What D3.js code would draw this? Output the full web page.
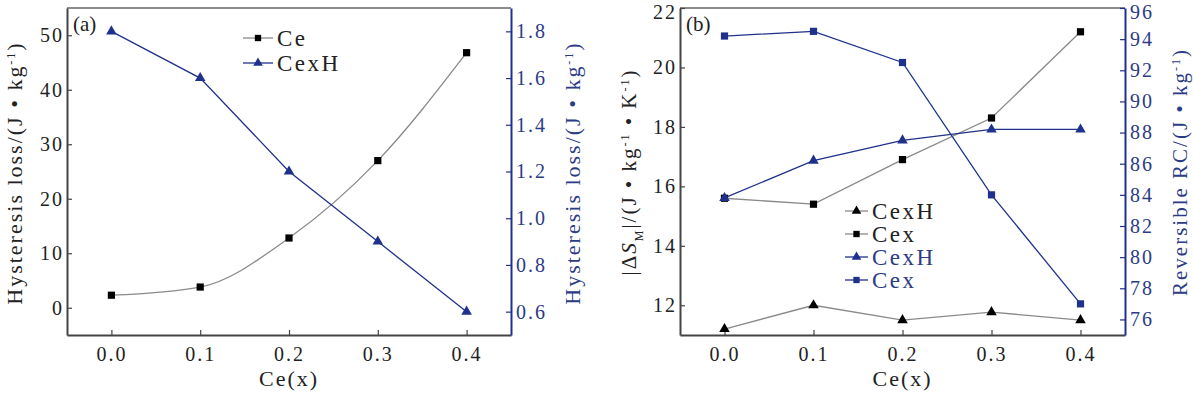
<!DOCTYPE html>
<html lang="en">
<head>
<meta charset="UTF-8">
<title>Hysteresis loss and RC</title>
<style>
  body { margin: 0; background: #fff; }
  text { font-family: "Liberation Serif", "Times New Roman", serif; }
</style>
</head>
<body>
<script src="https://d3js.org/d3.v7.min.js"></script>
<div id="chart"></div>
<script>
// ---- data ----
const xs = [0.0, 0.1, 0.2, 0.3, 0.4];
const xTicks = [0.0, 0.1, 0.2, 0.3, 0.4];

// panel (a)
const ceLoss = [2.3, 3.8, 12.8, 27.0, 46.8];          // left axis
const cexhLoss = [1.8, 1.6, 1.2, 0.9, 0.6];           // right axis
const aLeftTicks = [0, 10, 20, 30, 40, 50];
const aRightTicks = [0.6, 0.8, 1.0, 1.2, 1.4, 1.6, 1.8];

// panel (b)
const cexhDS = [11.2, 12.0, 11.5, 11.77, 11.5];       // left axis
const cexDS = [15.6, 15.4, 16.9, 18.3, 21.2];         // left axis
const cexhRC = [83.8, 86.2, 87.5, 88.2, 88.2];        // right axis
const cexRC = [94.2, 94.5, 92.5, 84.0, 77.0];         // right axis
const bLeftTicks = [12, 14, 16, 18, 20, 22];
const bRightTicks = [76, 78, 80, 82, 84, 86, 88, 90, 92, 94, 96];

const W = 1193, H = 394;
const blue = "#1f318c";
const blueText = "#2c3b86";
const gray = "#8a8a8a";
const axisCol = "#444";

const svg = d3.select("#chart").append("svg").attr("width", W).attr("height", H);

function panel(cfg) {
  const g = svg.append("g");
  const x = d3.scaleLinear().domain([-0.05, 0.45]).range([cfg.left, cfg.right]);
  const yL = d3.scaleLinear().domain(cfg.leftDomain).range([cfg.bottom, cfg.top]);
  const yR = d3.scaleLinear().domain(cfg.rightDomain).range([cfg.bottom, cfg.top]);

  // frame
  g.append("line").attr("x1", cfg.left).attr("x2", cfg.right).attr("y1", cfg.top).attr("y2", cfg.top)
    .attr("stroke", "#666").attr("stroke-width", 1.5);

  // axes
  const ax = g.append("g").attr("transform", `translate(0,${cfg.bottom})`)
    .call(d3.axisBottom(x).tickValues(xTicks).tickFormat(d3.format(".1f")).tickSizeInner(-5).tickSizeOuter(0).tickPadding(12));
  const al = g.append("g").attr("transform", `translate(${cfg.left},0)`)
    .call(d3.axisLeft(yL).tickValues(cfg.leftTicks).tickSizeInner(-5).tickSizeOuter(0).tickPadding(5));
  const ar = g.append("g").attr("transform", `translate(${cfg.right},0)`)
    .call(d3.axisRight(yR).tickValues(cfg.rightTicks).tickFormat(cfg.rightFormat).tickSizeInner(-5).tickSizeOuter(0).tickPadding(5));

  [ax, al].forEach(a => {
    a.select(".domain").attr("stroke", axisCol).attr("stroke-width", 2);
    a.selectAll(".tick line").attr("stroke", axisCol).attr("stroke-width", 1.2);
    a.selectAll(".tick text").attr("fill", "#222");
  });
  ar.select(".domain").attr("stroke", blue).attr("stroke-width", 2);
  ar.selectAll(".tick line").attr("stroke", blue).attr("stroke-width", 1.2);
  ar.selectAll(".tick text").attr("fill", blueText);
  [ax, al, ar].forEach(a => a.selectAll(".tick text").style("font-size", "20px").style("letter-spacing", "2px")
    .attr("font-family", null));
  ax.selectAll(".tick text").attr("dy", "0.71em");
  al.selectAll(".tick text").attr("dx", 2);

  // keep labels sitting on the top edge inside the picture
  [al, ar].forEach(a => a.selectAll(".tick text")
    .filter(function() { return this.parentNode.transform.baseVal.consolidate().matrix.f < cfg.top + 3; })
    .attr("dy", "0.52em"));

  // axis titles
  g.append("text").attr("x", (cfg.left + cfg.right) / 2).attr("y", 386).attr("text-anchor", "middle")
    .style("font-size", "22px").style("letter-spacing", "2px").attr("fill", "#222").text("Ce(x)");
  const lt = g.append("text").attr("transform", `translate(${cfg.leftTitleX},${cfg.titleY}) rotate(-90)`)
    .attr("text-anchor", "middle").style("font-size", cfg.titleSize).style("letter-spacing", "2px").attr("fill", "#222");
  cfg.leftTitle(lt);
  const rt = g.append("text").attr("transform", `translate(${cfg.rightTitleX},${cfg.titleY}) rotate(-90)`)
    .attr("text-anchor", "middle").style("font-size", cfg.titleSize).style("letter-spacing", "2px").attr("fill", blueText);
  cfg.rightTitle(rt);

  // panel tag
  g.append("text").attr("x", cfg.left + 6).attr("y", 31).style("font-size", "21px").attr("fill", "#222").text(cfg.tag);

  return { g, x, yL, yR };
}

function series(p, vals, y, color, shape, curve) {
  const line = d3.line().x((d, i) => p.x(xs[i])).y(d => y(d)).curve(curve || d3.curveLinear);
  p.g.append("path").attr("d", line(vals)).attr("fill", "none").attr("stroke", color).attr("stroke-width", 1.3);
  const sym = d3.symbol().type(shape === "square" ? d3.symbolSquare : d3.symbolTriangle).size(shape === "square" ? 52 : 48);
  p.g.selectAll(null).data(vals).enter().append("path")
    .attr("transform", (d, i) => `translate(${p.x(xs[i])},${y(d)})`)
    .attr("d", sym).attr("fill", color === gray ? "#000" : blue);
}

function legend(g, items, x0, y0, dy, len) {
  items.forEach((it, i) => {
    const y = y0 + i * dy;
    g.append("line").attr("x1", x0).attr("x2", x0 + len).attr("y1", y).attr("y2", y)
      .attr("stroke", it.line).attr("stroke-width", 1.3);
    const sym = d3.symbol().type(it.shape === "square" ? d3.symbolSquare : d3.symbolTriangle).size(40);
    g.append("path").attr("transform", `translate(${x0 + len / 2},${y})`).attr("d", sym).attr("fill", it.fill);
    g.append("text").attr("x", x0 + len + 4).attr("y", y + 8).style("font-size", "23px").style("letter-spacing", "2.5px")
      .attr("fill", it.text).text(it.label);
  });
}

function withSup(t, parts) {
  parts.forEach(p => {
    const ts = t.append("tspan").text(p[0]);
    if (p[1] === "sup") ts.attr("baseline-shift", "super").style("font-size", "12px");
    if (p[1] === "sub") ts.attr("baseline-shift", "sub").style("font-size", "12px");
    if (p[1] === "it") ts.style("font-style", "italic");
  });
}

// ---- panel (a) ----
const pa = panel({
  left: 67, right: 511, top: 8, bottom: 335,
  leftDomain: [-5, 55], rightDomain: [0.5, 1.9],
  leftTicks: aLeftTicks, rightTicks: aRightTicks, rightFormat: d3.format(".1f"),
  leftTitleX: 22, rightTitleX: 580, titleY: 173, titleSize: "22px", tag: "(a)",
  leftTitle: t => withSup(t, [["Hysteresis loss/(J • kg"], ["-1", "sup"], [")"]]),
  rightTitle: t => withSup(t, [["Hysteresis loss/(J • kg"], ["-1", "sup"], [")"]])
});
series(pa, ceLoss, pa.yL, gray, "square", d3.curveMonotoneX);
series(pa, cexhLoss, pa.yR, blue, "triangle");
legend(pa.g, [
  { label: "Ce", line: gray, fill: "#000", text: "#222", shape: "square" },
  { label: "CexH", line: blue, fill: blue, text: "#222", shape: "triangle" }
], 243, 38, 25, 30);

// ---- panel (b) ----
const pb = panel({
  left: 680, right: 1125, top: 8, bottom: 335,
  leftDomain: [11, 22], rightDomain: [75, 96],
  leftTicks: bLeftTicks, rightTicks: bRightTicks, rightFormat: d3.format("d"),
  leftTitleX: 636, rightTitleX: 1187, titleY: 172, titleSize: "21px", tag: "(b)",
  leftTitle: t => withSup(t, [["|Δ"], ["S", "it"], ["M", "sub"], ["|/(J • kg"], ["-1", "sup"], [" • K"], ["-1", "sup"], [")"]]),
  rightTitle: t => withSup(t, [["Reversible RC/(J • kg"], ["-1", "sup"], [")"]])
});
series(pb, cexhDS, pb.yL, gray, "triangle");
series(pb, cexDS, pb.yL, gray, "square");
series(pb, cexhRC, pb.yR, blue, "triangle");
series(pb, cexRC, pb.yR, blue, "square");
legend(pb.g, [
  { label: "CexH", line: gray, fill: "#000", text: "#222", shape: "triangle" },
  { label: "Cex", line: gray, fill: "#000", text: "#222", shape: "square" },
  { label: "CexH", line: blue, fill: blue, text: blueText, shape: "triangle" },
  { label: "Cex", line: blue, fill: blue, text: blueText, shape: "square" }
], 845, 211, 23, 23);
</script>
</body>
</html>
